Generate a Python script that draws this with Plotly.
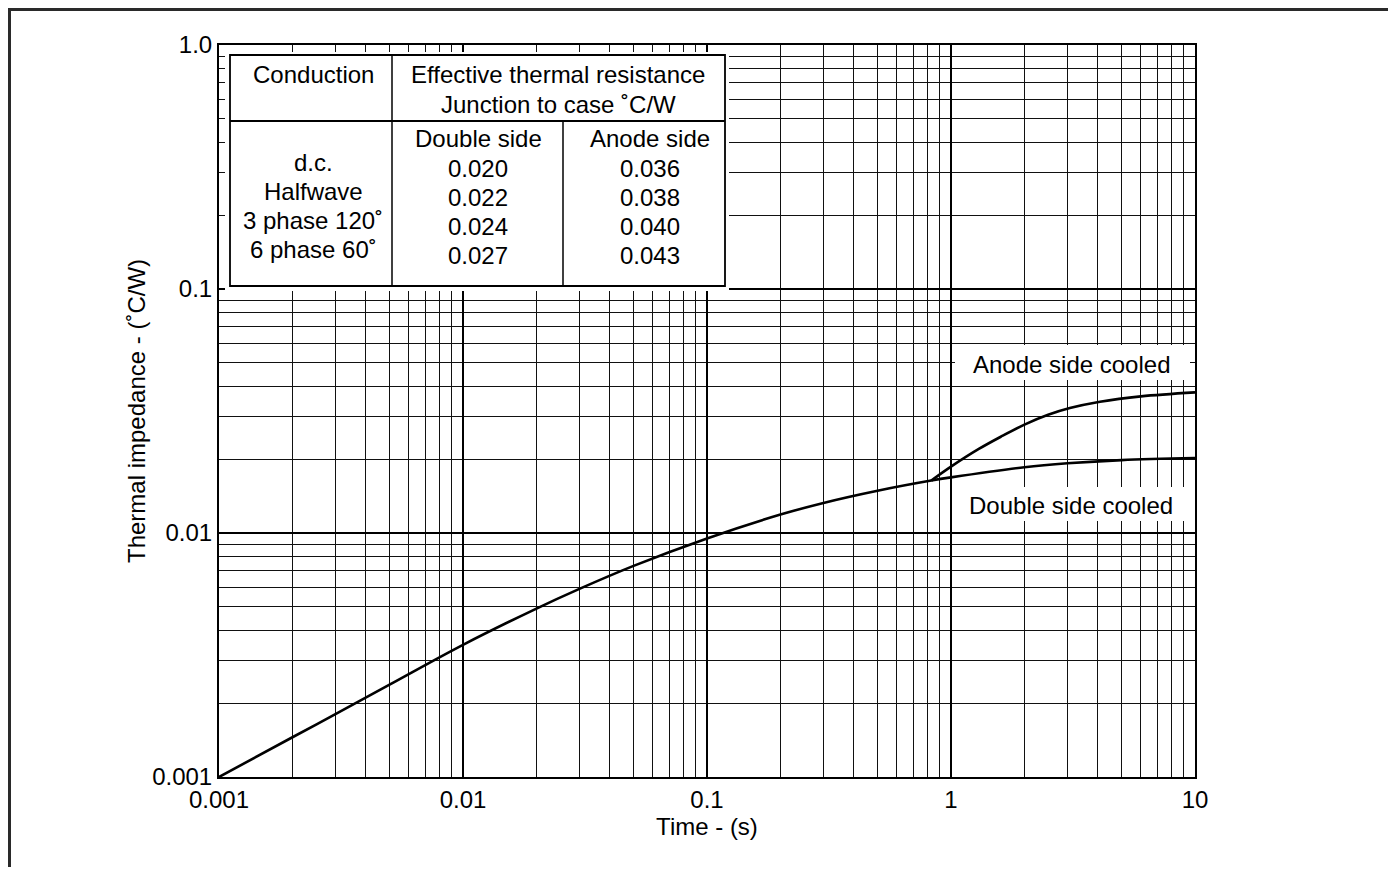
import plotly.graph_objects as go

# ---------------- data ----------------
time_double = [0.001, 0.002, 0.003, 0.005, 0.01, 0.02, 0.03, 0.05, 0.1, 0.2, 0.3, 0.5, 0.83, 1.0, 2.0, 3.0, 5.0, 10.0]
z_double = [0.001, 0.001455, 0.00181, 0.00239, 0.00348, 0.0049, 0.0059, 0.00733, 0.0095, 0.0119, 0.01328, 0.0149, 0.0164, 0.0169, 0.0186, 0.0193, 0.0199, 0.0203]

time_anode = [0.83, 1.0, 1.3, 1.6, 2.0, 2.5, 3.07, 4.08, 6.0, 10.0]
z_anode = [0.0164, 0.0187, 0.0221, 0.0248, 0.0278, 0.0305, 0.0325, 0.0345, 0.0363, 0.0377]

x_tick_vals = [0.001, 0.01, 0.1, 1, 10]
x_tick_text = ["0.001", "0.01", "0.1", "1", "10"]
y_tick_vals = [0.001, 0.01, 0.1, 1]
y_tick_text = ["0.001", "0.01", "0.1", "1.0"]

conduction = ["d.c.", "Halfwave", "3 phase 120˚", "6 phase 60˚"]
double_side = ["0.020", "0.022", "0.024", "0.027"]
anode_side = ["0.036", "0.038", "0.040", "0.043"]

# ---------------- layout geometry (page pixels) ----------------
W, H = 1396, 875
OFF = 8  # page body margin
L, R, T, B = 219, 1195, 45, 777
PW, PH = R - L, B - T
FW, FH = W - 2 * OFF, H - 2 * OFF


def px(x):
    return (x - L) / PW


def py(y):
    return (B - y) / PH


FONT = "Liberation Sans, Arial, Helvetica, sans-serif"
FS = 24

fig = go.Figure()
fig.add_trace(go.Scatter(x=time_double, y=z_double, mode="lines",
                         line=dict(color="black", width=2.6, shape="spline", smoothing=1.0),
                         showlegend=False, hoverinfo="skip"))
fig.add_trace(go.Scatter(x=time_anode, y=z_anode, mode="lines",
                         line=dict(color="black", width=2.6, shape="spline", smoothing=1.0),
                         showlegend=False, hoverinfo="skip"))


def minor_vals(lo_exp, hi_exp):
    v = []
    for e in range(lo_exp, hi_exp):
        for d in range(2, 10):
            v.append(d * 10 ** e)
    return v


axis_common = dict(
    type="log", showline=True, mirror=True, linecolor="black", linewidth=2,
    showgrid=True, gridcolor="black", gridwidth=1.6, ticks="", zeroline=False,
    tickfont=dict(family=FONT, size=FS, color="black"),
)

fig.update_xaxes(**axis_common, range=[-3, 1], tickmode="array",
                 tickvals=x_tick_vals, ticktext=x_tick_text,
                 minor=dict(tickmode="array", tickvals=minor_vals(-3, 1), showgrid=True,
                            gridcolor="#111", gridwidth=1, ticks=""),
                 title=dict(text="Time - (s)", font=dict(family=FONT, size=FS, color="black"), standoff=1))
fig.update_yaxes(**axis_common, range=[-3, 0], tickmode="array",
                 tickvals=y_tick_vals, ticktext=y_tick_text,
                 minor=dict(tickmode="array", tickvals=minor_vals(-3, 0), showgrid=True,
                            gridcolor="#111", gridwidth=1, ticks=""),
                 title=dict(text="Thermal impedance - (˚C/W)", font=dict(family=FONT, size=FS, color="black"), standoff=0))

shapes = []
# outer frame (top and left lines)
shapes.append(dict(type="line", xref="paper", yref="paper", x0=px(9.5), x1=px(W + 20), y0=py(9.5), y1=py(9.5),
                   line=dict(color="#2a2a2a", width=3)))
shapes.append(dict(type="line", xref="paper", yref="paper", x0=px(9.5), x1=px(9.5), y0=py(8), y1=py(H + 20),
                   line=dict(color="#2a2a2a", width=3)))
# white area behind table
shapes.append(dict(type="rect", xref="paper", yref="paper", x0=px(225), x1=px(729), y0=py(291), y1=py(52),
                   fillcolor="white", line=dict(width=0), layer="above"))
# table border
shapes.append(dict(type="rect", xref="paper", yref="paper", x0=px(230), x1=px(725), y0=py(286), y1=py(55),
                   fillcolor="rgba(0,0,0,0)", line=dict(color="black", width=1.8), layer="above"))
# table dividers
shapes.append(dict(type="line", xref="paper", yref="paper", x0=px(392), x1=px(392), y0=py(286), y1=py(55),
                   line=dict(color="black", width=1.5), layer="above"))
shapes.append(dict(type="line", xref="paper", yref="paper", x0=px(563), x1=px(563), y0=py(286), y1=py(121),
                   line=dict(color="black", width=1.5), layer="above"))
shapes.append(dict(type="line", xref="paper", yref="paper", x0=px(230), x1=px(725), y0=py(121), y1=py(121),
                   line=dict(color="black", width=1.8), layer="above"))
# white boxes behind curve labels
shapes.append(dict(type="rect", xref="paper", yref="paper", x0=px(955), x1=px(1190), y0=py(380), y1=py(345),
                   fillcolor="white", line=dict(width=0), layer="above"))
shapes.append(dict(type="rect", xref="paper", yref="paper", x0=px(958), x1=px(1190), y0=py(521), y1=py(487),
                   fillcolor="white", line=dict(width=0), layer="above"))

annotations = []


def txt(s, x, y):
    annotations.append(dict(text=s, xref="paper", yref="paper", x=px(x), y=py(y),
                            xanchor="center", yanchor="middle", showarrow=False,
                            font=dict(family=FONT, size=FS, color="black")))


txt("Conduction", 313, 74)
txt("Effective thermal resistance", 558, 74)
txt("Junction to case ˚C/W", 558, 104)
txt("Double side", 478, 138)
txt("Anode side", 650, 138)
for i, (c, d, a) in enumerate(zip(conduction, double_side, anode_side)):
    txt(c, 313, 162 + i * 29.3)
    txt(d, 478, 168 + i * 29.3)
    txt(a, 650, 168 + i * 29.3)

txt("Anode side cooled", 1071, 364)
txt("Double side cooled", 1071, 505)

fig.update_layout(
    width=FW, height=FH,
    margin=dict(l=L - OFF, r=FW - (R - OFF), t=T - OFF, b=FH - (B - OFF), autoexpand=False),
    paper_bgcolor="white", plot_bgcolor="white",
    shapes=shapes, annotations=annotations,
    font=dict(family=FONT, color="black"),
)

fig.write_html("out.html")
